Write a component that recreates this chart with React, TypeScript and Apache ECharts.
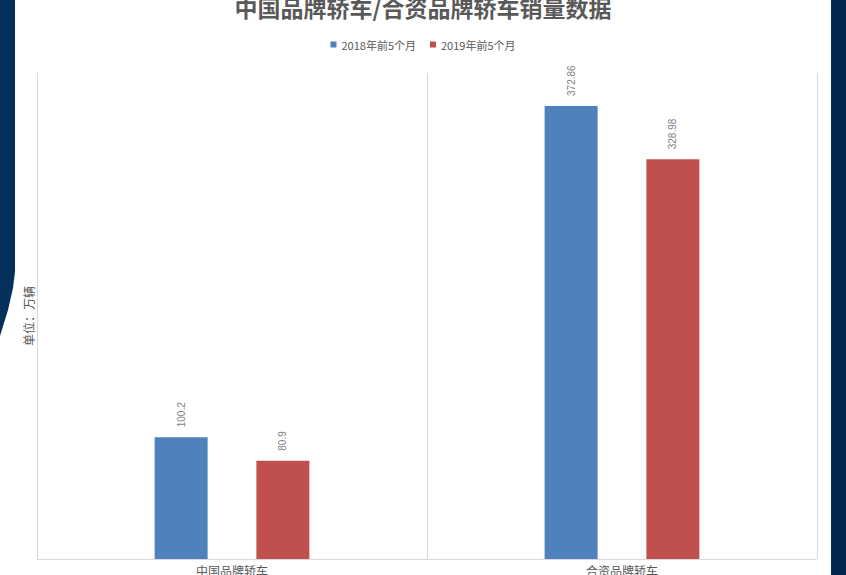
import React, { useEffect, useRef } from "react";
import * as echarts from "echarts";

const categories = ["中国品牌轿车", "合资品牌轿车"];
const seriesNames = ["2018年前5个月", "2019年前5个月"];
const sales2018 = [100.2, 372.86];
const sales2019 = [80.9, 328.98];

const App: React.FC = () => {
  const chartRef = useRef<HTMLDivElement>(null);

  useEffect(() => {
    document.body.style.margin = "0";
    if (!chartRef.current) return;
    const chart = echarts.init(chartRef.current, undefined, { renderer: "svg" });

    const label = {
      show: true,
      position: "top" as const,
      rotate: 90,
      align: "left" as const,
      verticalAlign: "middle" as const,
      distance: 10,
      fontSize: 10,
      color: "#7f7f7f",
      fontFamily: "Liberation Sans",
    };

    const option: echarts.EChartsOption = {
      animation: false,
      backgroundColor: "#06305c",
      graphic: [
        // white page panel
        { type: "rect", z: -100, shape: { x: 15, y: 0, width: 816, height: 575 }, style: { fill: "#ffffff" } },
        {
          type: "polygon",
          z: -100,
          shape: { points: [[0, 336], [8, 310], [13, 288], [15, 272], [16, 575], [0, 575]] },
          style: { fill: "#ffffff" },
        },
        { type: "rect", z: -100, shape: { x: 831, y: 0, width: 15, height: 575 }, style: { fill: "#03264e" } },
      ],
      title: {
        text: "中国品牌轿车/合资品牌轿车销量数据",
        left: "center",
        top: -10,
        textStyle: {
          fontFamily: "Noto Sans CJK SC",
          fontSize: 23,
          fontWeight: "bold",
          color: "#595959",
        },
      },
      legend: {
        top: 34,
        left: "center",
        itemWidth: 6,
        itemHeight: 6,
        itemGap: 14,
        icon: "rect",
        textStyle: { fontFamily: "Noto Sans CJK SC", fontSize: 11, color: "#595959" },
        data: seriesNames,
      },
      grid: { left: 37, right: 29, top: 73, bottom: 16, outerBoundsMode: "none" } as any,
      xAxis: {
        type: "category",
        data: categories,
        axisLine: { show: true, lineStyle: { color: "#d9d9d9" } },
        axisTick: { show: false },
        splitLine: { show: true, lineStyle: { color: "#d9d9d9" } },
        axisLabel: { fontFamily: "Noto Sans CJK SC", fontSize: 12, color: "#595959", margin: 5 },
      },
      yAxis: {
        type: "value",
        min: 0,
        max: 400,
        name: "单位：万辆",
        nameLocation: "middle",
        nameRotate: 90,
        nameGap: 3,
        nameTextStyle: { fontFamily: "Noto Sans CJK SC", fontSize: 12, color: "#595959" },
        axisLine: { show: true, lineStyle: { color: "#d9d9d9" } },
        axisTick: { show: false },
        axisLabel: { show: false },
        splitLine: { show: false },
      },
      series: [
        {
          name: seriesNames[0],
          type: "bar",
          data: sales2018,
          barWidth: 53,
          barGap: "92%",
          itemStyle: { color: "#4f81bd" },
          label,
        },
        {
          name: seriesNames[1],
          type: "bar",
          data: sales2019,
          barWidth: 53,
          itemStyle: { color: "#c0504d" },
          label,
        },
      ],
    };

    chart.setOption(option);
    return () => chart.dispose();
  }, []);

  return <div ref={chartRef} style={{ width: 846, height: 575 }} />;
};

export default App;
